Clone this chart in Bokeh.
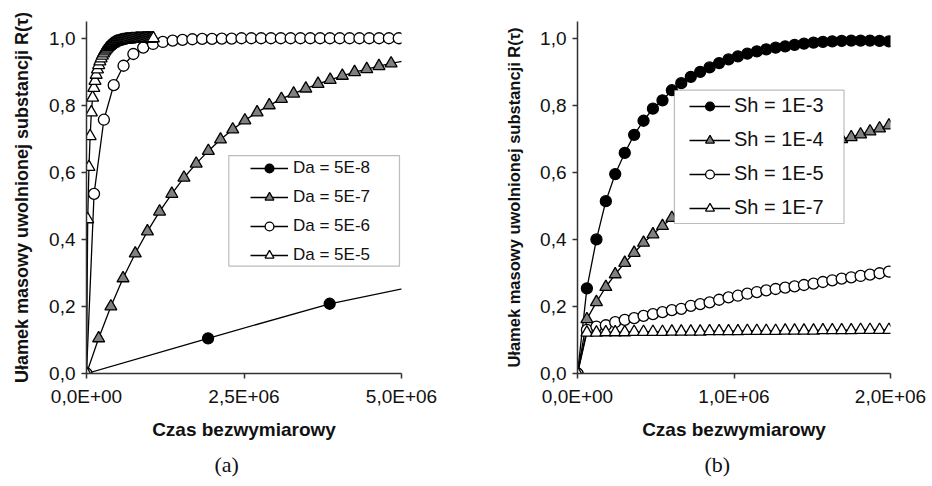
from bokeh.plotting import figure
from bokeh.models import (Range1d, FixedTicker, Legend, LegendItem, BoxAnnotation,
                          Title)
from bokeh.layouts import row
from bokeh.embed import file_html
from bokeh.resources import INLINE

# ---------------- data: panel (a) ----------------  (time in units of 1e6)
t_da8 = [0.0, 1.93, 3.86, 5.79]
r_da8 = [0.0, 0.105, 0.208, 0.283]

t_da7 = [0.000, 0.193, 0.387, 0.580, 0.774, 0.967, 1.160, 1.354, 1.547, 1.741,
         1.934, 2.127, 2.321, 2.514, 2.708, 2.901, 3.094, 3.288, 3.481, 3.675,
         3.868, 4.061, 4.255, 4.448, 4.642, 4.835, 5.028]
r_da7 = [0.000, 0.105, 0.200, 0.284, 0.358, 0.424, 0.483, 0.536, 0.584, 0.626,
         0.664, 0.698, 0.728, 0.755, 0.779, 0.800, 0.819, 0.835, 0.850, 0.864,
         0.876, 0.888, 0.899, 0.908, 0.917, 0.925, 0.932]

t_da6 = [0.000, 0.120, 0.276, 0.432, 0.588, 0.744, 0.900, 1.056, 1.212, 1.368,
         1.524, 1.680, 1.836, 1.992, 2.148, 2.304, 2.460, 2.616, 2.772, 2.928,
         3.084, 3.240, 3.396, 3.552, 3.708, 3.864, 4.020, 4.176, 4.332, 4.488,
         4.644, 4.800, 4.956]
r_da6 = [0.000, 0.536, 0.757, 0.860, 0.918, 0.953, 0.972, 0.983, 0.989, 0.993,
         0.995, 0.997, 0.998, 0.998, 0.999, 0.999, 1.000, 1.000, 1.000, 1.000,
         1.000, 1.000, 1.000, 1.000, 1.000, 1.000, 1.000, 1.000, 1.000, 1.000,
         1.000, 1.000, 1.000]

t_da5 = [0.000, 0.019, 0.039, 0.058, 0.077, 0.097, 0.116, 0.135, 0.154, 0.174,
         0.193, 0.212, 0.232, 0.251, 0.270, 0.290, 0.309, 0.328, 0.348, 0.367,
         0.386, 0.405, 0.425, 0.444, 0.463, 0.483, 0.502, 0.521, 0.541, 0.560,
         0.579, 0.598, 0.618, 0.637, 0.656, 0.676, 0.695, 0.714, 0.734, 0.753,
         0.772, 0.791, 0.811, 0.830, 0.849, 0.869, 0.888, 0.907, 0.927, 0.946,
         0.965, 0.984, 1.004, 1.023, 1.042, 1.062]
r_da5 = [0.000, 0.460, 0.616, 0.708, 0.779, 0.823, 0.852, 0.873, 0.891, 0.907,
         0.920, 0.931, 0.940, 0.948, 0.955, 0.961, 0.966, 0.970, 0.974, 0.977,
         0.980, 0.983, 0.985, 0.987, 0.989, 0.990, 0.991, 0.992, 0.993, 0.994,
         0.995, 0.995, 0.996, 0.996, 0.997, 0.997, 0.997, 0.998, 0.998, 0.998,
         0.998, 0.999, 0.999, 0.999, 0.999, 0.999, 0.999, 1.000, 1.000, 1.000,
         1.000, 1.000, 1.000, 1.000, 1.000, 1.000]

# ---------------- data: panel (b) ----------------
t_b = [0.000, 0.060, 0.121, 0.181, 0.241, 0.302, 0.362, 0.422, 0.482, 0.543,
       0.603, 0.663, 0.724, 0.784, 0.844, 0.905, 0.965, 1.025, 1.085, 1.146,
       1.206, 1.266, 1.327, 1.387, 1.447, 1.508, 1.568, 1.628, 1.688, 1.749,
       1.809, 1.869, 1.930, 1.990]
r_sh3 = [0.000, 0.254, 0.400, 0.514, 0.595, 0.658, 0.712, 0.754, 0.790, 0.815,
         0.845, 0.866, 0.885, 0.900, 0.913, 0.926, 0.937, 0.946, 0.954, 0.961,
         0.967, 0.972, 0.976, 0.980, 0.984, 0.987, 0.989, 0.991, 0.992, 0.993,
         0.993, 0.993, 0.992, 0.991]
r_sh4 = [0.000, 0.162, 0.213, 0.258, 0.296, 0.330, 0.360, 0.390, 0.415, 0.440,
         0.464, 0.485, 0.504, 0.522, 0.539, 0.555, 0.570, 0.584, 0.597, 0.609,
         0.621, 0.632, 0.643, 0.653, 0.663, 0.673, 0.682, 0.691, 0.699, 0.705,
         0.713, 0.722, 0.731, 0.740]
r_sh5 = [0.000, 0.130, 0.140, 0.144, 0.153, 0.160, 0.165, 0.172, 0.177, 0.183,
         0.189, 0.193, 0.202, 0.207, 0.212, 0.220, 0.227, 0.232, 0.238, 0.243,
         0.248, 0.252, 0.256, 0.260, 0.264, 0.268, 0.273, 0.278, 0.283, 0.287,
         0.291, 0.295, 0.299, 0.304]
r_sh7 = [0.000, 0.122, 0.122, 0.123, 0.123, 0.123, 0.124, 0.124, 0.124, 0.124,
         0.125, 0.125, 0.125, 0.125, 0.126, 0.126, 0.126, 0.126, 0.127, 0.127,
         0.127, 0.127, 0.128, 0.128, 0.128, 0.128, 0.129, 0.129, 0.129, 0.129,
         0.130, 0.130, 0.130, 0.130]

labels_a = ["Da = 5E-8", "Da = 5E-7", "Da = 5E-6", "Da = 5E-5"]
labels_b = ["Sh = 1E-3", "Sh = 1E-4", "Sh = 1E-5", "Sh = 1E-7"]

y_ticks = [0, 0.2, 0.4, 0.6, 0.8, 1]
y_tick_labels = ["0,0", "0,2", "0,4", "0,6", "0,8", "1,0"]
x_ticks_a = [0, 2500000, 5000000]
x_tick_labels_a = ["0,0E+00", "2,5E+06", "5,0E+06"]
x_ticks_b = [0, 1000000, 2000000]
x_tick_labels_b = ["0,0E+00", "1,0E+06", "2,0E+06"]

y_title = "Ułamek masowy uwolnionej substancji R(τ)"
x_title = "Czas bezwymiarowy"

FONT = "Liberation Sans"
AX = "#333333"
TXT = "#111111"

# marker styles: (marker, fill, size)
styles = [("circle", "black", 11), ("triangle", "#808080", 12),
          ("circle", "white", 11), ("triangle", "white", 12)]


def make_fig(xmax, bl, br, bt, bb, xt, xtl, ylab_size):
    p = figure(width=466, height=486, output_backend="svg", toolbar_location=None,
               x_range=Range1d(0, xmax), y_range=Range1d(0, 1.05),
               min_border_left=bl, min_border_right=br,
               min_border_top=bt, min_border_bottom=bb)
    p.outline_line_color = None
    p.grid.visible = False
    p.background_fill_color = "white"
    p.border_fill_color = "white"
    for ax in (p.xaxis[0], p.yaxis[0]):
        ax.axis_line_color = AX
        ax.axis_line_width = 1.5
        ax.major_tick_line_color = AX
        ax.major_tick_line_width = 1.5
        ax.major_tick_out = 5
        ax.major_tick_in = 0
        ax.minor_tick_line_color = None
        ax.major_label_text_font = FONT
        ax.major_label_text_font_size = "19px"
        ax.major_label_text_color = TXT
        ax.axis_label_text_font = FONT
        ax.axis_label_text_font_style = "bold"
        ax.axis_label_text_color = TXT
    p.xaxis.ticker = FixedTicker(ticks=xt)
    p.xaxis.major_label_overrides = dict(zip(xt, xtl))
    p.yaxis.ticker = FixedTicker(ticks=y_ticks)
    p.yaxis.major_label_overrides = dict(zip(y_ticks, y_tick_labels))
    p.xaxis.axis_label = x_title
    p.yaxis.axis_label = y_title
    p.xaxis.axis_label_text_font_size = "19px"
    p.yaxis.axis_label_text_font_size = ylab_size
    p.xaxis.major_label_standoff = 7
    p.yaxis.major_label_standoff = 6
    p.xaxis.axis_label_standoff = 9
    p.yaxis.axis_label_standoff = 14
    return p


def add_series(p, t, r, marker, fill, size, n_markers=None):
    xs = [v * 1e6 for v in t]
    lr = p.line(xs, r, line_color="black", line_width=1.3)
    n = len(xs) if n_markers is None else n_markers
    sr = p.scatter(xs[:n], r[:n], marker=marker, size=size, fill_color=fill,
                   line_color="black", line_width=1.3)
    return [lr, sr]


def caption(text, offset):
    return Title(text=text, align="left", offset=offset, standoff=14,
                 text_font="Liberation Serif", text_font_size="22px",
                 text_font_style="normal", text_color=TXT)


# ---------------- panel (a) ----------------
pa = make_fig(5e6, 86, 65, 13, 113, x_ticks_a, x_tick_labels_a, "18px")
series_a = [(t_da8, r_da8, 3), (t_da7, r_da7, len(t_da7) - 1),
            (t_da6, r_da6, None), (t_da5, r_da5, None)]
items_a = []
for (t, r, n), (m, f, s), lab in zip(series_a, styles, labels_a):
    items_a.append(LegendItem(label=lab, renderers=add_series(pa, t, r, m, f, s, n)))

pa.add_layout(BoxAnnotation(left=2.259e6, right=4.968e6, bottom=0.320, top=0.650,
                            fill_color="white", fill_alpha=1.0,
                            line_color="#222222", line_width=1.2))
leg_a = Legend(items=items_a, location=(164, 107), padding=0, margin=0,
               spacing=7, glyph_width=38, glyph_height=22, label_height=22,
               label_standoff=5, border_line_color=None, background_fill_alpha=0,
               label_text_font=FONT, label_text_font_size="17px",
               label_text_color=TXT)
pa.add_layout(leg_a, "center")
pa.add_layout(caption("(a)", 128), "below")

# ---------------- panel (b) ----------------
pb = make_fig(2e6, 111, 42, 21, 113, x_ticks_b, x_tick_labels_b, "16.5px")
items_b = []
for r, (m, f, s), lab in zip([r_sh3, r_sh4, r_sh5, r_sh7], styles, labels_b):
    items_b.append(LegendItem(label=lab, renderers=add_series(pb, t_b, r, m, f, s)))

pb.add_layout(BoxAnnotation(left=0.619e6, right=1.703e6, bottom=0.4475, top=0.845,
                            fill_color="white", fill_alpha=1.0,
                            line_color="#222222", line_width=1.2))
leg_b = Legend(items=items_b, location=(112, 154), padding=0, margin=0,
               spacing=11, glyph_width=41, glyph_height=22, label_height=22,
               label_standoff=4, border_line_color=None, background_fill_alpha=0,
               label_text_font=FONT, label_text_font_size="20px",
               label_text_color=TXT)
pb.add_layout(leg_b, "center")
pb.add_layout(caption("(b)", 127), "below")

layout = row(pa, pb, spacing=0)
open("out.html", "w").write(file_html(layout, INLINE))
